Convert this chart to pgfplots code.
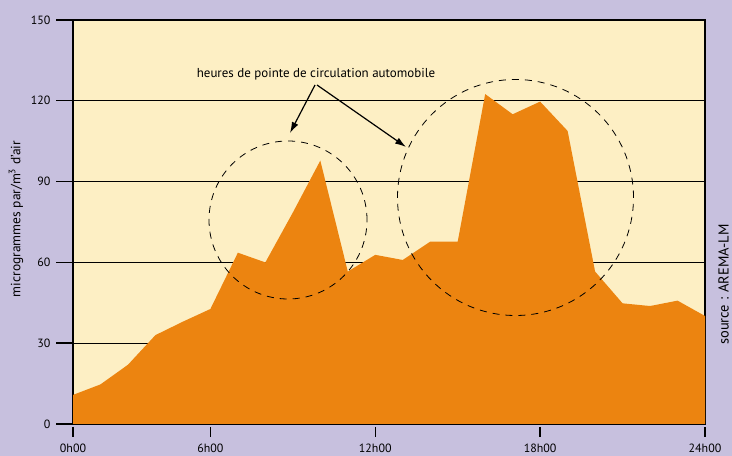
\documentclass[border=0pt]{standalone}
\usepackage{fontspec}
\setmainfont{PT Sans}
\usepackage{pgfplots}
\usetikzlibrary{arrows.meta}
\pgfplotsset{compat=1.18}
\definecolor{bgl}{RGB}{199,192,222}
\definecolor{plotbg}{RGB}{253,239,196}
\definecolor{orng}{RGB}{236,132,16}
\begin{document}
\begin{tikzpicture}[x=1bp,y=1bp]
\useasboundingbox (0,0) rectangle (732,456);
\fill[bgl] (0,0) rectangle (732,456);
\begin{axis}[
  at={(73bp,32bp)}, anchor=south west,
  scale only axis, width=632bp, height=404bp,
  xmin=0, xmax=23, ymin=0, ymax=150,
  xtick={0,5,11,17,23}, xticklabels={0h00,6h00,12h00,18h00,24h00},
  ytick={0,30,60,90,120,150},
  xtick pos=left, ytick pos=left,
  axis background/.style={fill=plotbg},
  ymajorgrids, grid style={black, line width=0.8bp},
  axis line style={black, line width=1.6bp},
  tick align=outside, major tick length=17bp,
  tick style={black, line width=1.4bp},
  xtick style={draw=none},
  tick label style={font=\fontsize{12}{14}\selectfont},
  xticklabel style={yshift=1bp},
  yticklabel style={xshift=-2bp},
  /pgf/number format/assume math mode=true,
  clip=false,
]
\addplot[fill=orng, draw=none] coordinates {
(0,10.8) (1,14.7) (2,22) (3,33) (4,38) (5,42.7) (6,63.6) (7,60)
(8,78.5) (9,97.8) (10,56.6) (11,62.8) (12,60.9) (13,67.7) (14,67.7)
(15,122.5) (16,115) (17,119.7) (18,108.8) (19,56.6) (20,44.8)
(21,43.8) (22,45.8) (23,40.1)} \closedcycle;
\pgfplotsinvokeforeach{0,5,11,17,23}{
  \draw[black, line width=1.4bp] (axis cs:#1,0) ++(0,-3bp) -- ++(0,-10bp);
}
\end{axis}
\node[rotate=90, font=\fontsize{13.5}{15}\selectfont] at (16,237) {microgrammes par/m\textsuperscript{3} d'air};
\node[rotate=90, anchor=base west, inner sep=0pt, font=\fontsize{14.5}{16}\selectfont] at (728.5,111) {source : AREMA-LM};
\node[anchor=base, font=\fontsize{13}{15}\selectfont] at (316,378) {heures de pointe de circulation automobile};
\draw[-{Latex[length=11bp,width=7bp]}, line width=1.2bp] (315,371) -- (290,323);
\draw[-{Latex[length=11bp,width=7bp]}, line width=1.2bp] (317,371) -- (406,309);
\draw[dash pattern=on 7bp off 6bp, line width=0.8bp] (288,236) circle (79);
\draw[dash pattern=on 7bp off 6bp, line width=0.8bp] (515.5,258.5) circle (118);
\end{tikzpicture}
\end{document}
